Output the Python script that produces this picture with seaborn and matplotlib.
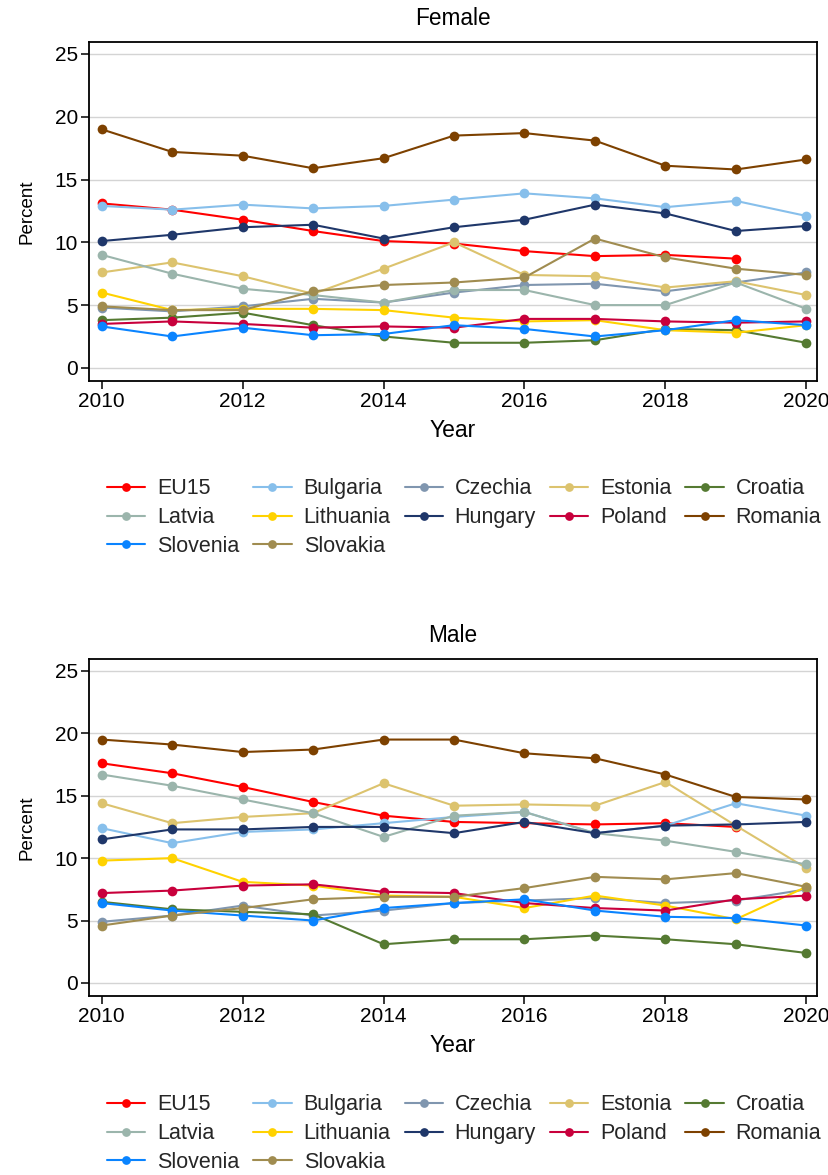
import numpy as np
import pandas as pd
import seaborn as sns
import matplotlib.pyplot as plt
from matplotlib.lines import Line2D

years = list(range(2010, 2021))
countries = ['EU15', 'Bulgaria', 'Czechia', 'Estonia', 'Croatia',
             'Latvia', 'Lithuania', 'Hungary', 'Poland', 'Romania',
             'Slovenia', 'Slovakia']
colors = ['#ff0000', '#87bfeb', '#8096af', '#dcc36e', '#557a32',
          '#9bb5ac', '#ffd200', '#1f376a', '#c8003c', '#7d4100',
          '#0a84ff', '#a08c50']

# Female values (percent)
female_eu15 = [13.1, 12.6, 11.8, 10.9, 10.1, 9.9, 9.3, 8.9, 9.0, 8.7, np.nan]
female_bulgaria = [12.9, 12.6, 13.0, 12.7, 12.9, 13.4, 13.9, 13.5, 12.8, 13.3, 12.1]
female_czechia = [4.8, 4.5, 4.9, 5.5, 5.2, 6.0, 6.6, 6.7, 6.1, 6.8, 7.6]
female_estonia = [7.6, 8.4, 7.3, 5.9, 7.9, 10.0, 7.4, 7.3, 6.4, 6.9, 5.8]
female_croatia = [3.8, 4.0, 4.4, 3.4, 2.5, 2.0, 2.0, 2.2, 3.1, 3.0, 2.0]
female_latvia = [9.0, 7.5, 6.3, 5.8, 5.2, 6.2, 6.2, 5.0, 5.0, 6.8, 4.7]
female_lithuania = [6.0, 4.6, 4.7, 4.7, 4.6, 4.0, 3.7, 3.8, 3.0, 2.8, 3.4]
female_hungary = [10.1, 10.6, 11.2, 11.4, 10.3, 11.2, 11.8, 13.0, 12.3, 10.9, 11.3]
female_poland = [3.5, 3.7, 3.5, 3.2, 3.3, 3.2, 3.9, 3.9, 3.7, 3.6, 3.7]
female_romania = [19.0, 17.2, 16.9, 15.9, 16.7, 18.5, 18.7, 18.1, 16.1, 15.8, 16.6]
female_slovenia = [3.3, 2.5, 3.2, 2.6, 2.7, 3.4, 3.1, 2.5, 3.0, 3.8, 3.4]
female_slovakia = [4.9, 4.6, 4.6, 6.1, 6.6, 6.8, 7.2, 10.3, 8.8, 7.9, 7.4]

# Male values (percent)
male_eu15 = [17.6, 16.8, 15.7, 14.5, 13.4, 12.9, 12.8, 12.7, 12.8, 12.5, np.nan]
male_bulgaria = [12.4, 11.2, 12.1, 12.3, 12.8, 13.3, 13.7, 12.0, 12.6, 14.4, 13.4]
male_czechia = [4.9, 5.4, 6.2, 5.4, 5.8, 6.4, 6.6, 6.8, 6.4, 6.6, 7.5]
male_estonia = [14.4, 12.8, 13.3, 13.6, 16.0, 14.2, 14.3, 14.2, 16.1, 12.6, 9.2]
male_croatia = [6.5, 5.9, 5.7, 5.5, 3.1, 3.5, 3.5, 3.8, 3.5, 3.1, 2.4]
male_latvia = [16.7, 15.8, 14.7, 13.6, 11.7, 13.4, 13.7, 12.0, 11.4, 10.5, 9.5]
male_lithuania = [9.8, 10.0, 8.1, 7.8, 7.0, 6.9, 6.0, 7.0, 6.2, 5.1, 7.7]
male_hungary = [11.5, 12.3, 12.3, 12.5, 12.5, 12.0, 12.9, 12.0, 12.6, 12.7, 12.9]
male_poland = [7.2, 7.4, 7.8, 7.9, 7.3, 7.2, 6.4, 6.0, 5.8, 6.7, 7.0]
male_romania = [19.5, 19.1, 18.5, 18.7, 19.5, 19.5, 18.4, 18.0, 16.7, 14.9, 14.7]
male_slovenia = [6.4, 5.8, 5.4, 5.0, 6.0, 6.4, 6.7, 5.8, 5.3, 5.2, 4.6]
male_slovakia = [4.6, 5.4, 6.0, 6.7, 6.9, 6.9, 7.6, 8.5, 8.3, 8.8, 7.7]

female = [female_eu15, female_bulgaria, female_czechia, female_estonia, female_croatia,
          female_latvia, female_lithuania, female_hungary, female_poland, female_romania,
          female_slovenia, female_slovakia]
male = [male_eu15, male_bulgaria, male_czechia, male_estonia, male_croatia,
        male_latvia, male_lithuania, male_hungary, male_poland, male_romania,
        male_slovenia, male_slovakia]


def long_frame(series):
    rows = []
    for name, vals in zip(countries, series):
        for yr, v in zip(years, vals):
            rows.append({'Year': yr, 'Country': name, 'Percent': v})
    return pd.DataFrame(rows).dropna()


sns.set_theme(style='white')
plt.rcParams['font.family'] = ['Liberation Sans', 'DejaVu Sans']
palette = dict(zip(countries, colors))

# legend fills column by column, so reorder to read row by row
legend_order = [0, 5, 10, 1, 6, 11, 2, 7, 3, 8, 4, 9]

fig = plt.figure(figsize=(8.29, 11.75), dpi=100)
ax1 = fig.add_axes([0.1074, 0.6757, 0.878, 0.2885])
ax2 = fig.add_axes([0.1074, 0.1523, 0.878, 0.2868])

for ax, series, title, leg_y in [(ax1, female, 'Female', -0.287), (ax2, male, 'Male', -0.292)]:
    df = long_frame(series)
    sns.lineplot(data=df, x='Year', y='Percent', hue='Country', hue_order=countries,
                 palette=palette, marker='o', markersize=7, markeredgewidth=0,
                 linewidth=1.5, ax=ax, legend=False)
    ax.set_xlim(2009.82, 2020.15)
    ax.set_ylim(-1.05, 25.95)
    ax.set_xticks(range(2010, 2021, 2))
    ax.set_yticks(range(0, 26, 5))
    ax.yaxis.grid(True, color='#d4d4d4', linewidth=1.0)
    ax.set_axisbelow(True)
    for s in ax.spines.values():
        s.set_color('black')
        s.set_linewidth(1.3)
    ax.tick_params(axis='both', direction='out', length=5.5, width=1.1, pad=2.5,
                   labelsize=15, colors='black', left=True, bottom=True)
    ax.set_title(title, fontsize=16.3, color='black', pad=12)
    ax.set_xlabel('Year', fontsize=16.5, color='black', labelpad=6)
    ax.set_ylabel('Percent', fontsize=13.5, color='black', labelpad=14)

    handles = [Line2D([], [], color=colors[i], marker='o', markersize=6.3, linewidth=1.5,
                      markeredgewidth=0) for i in legend_order]
    labels = [countries[i] for i in legend_order]
    ax.legend(handles, labels, loc='upper left', bbox_to_anchor=(0.0247, leg_y),
              ncol=5, frameon=False, fontsize=15.5, handlelength=1.77,
              handletextpad=0.56, columnspacing=0.65, labelspacing=0.36,
              borderpad=0, borderaxespad=0)

fig.savefig('out.png', dpi=100)
